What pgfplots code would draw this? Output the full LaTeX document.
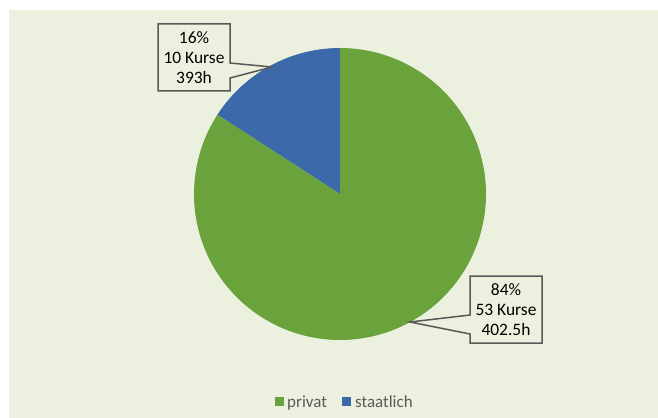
\documentclass[border=0pt]{standalone}
\usepackage{pgfplots}
\pgfplotsset{compat=1.18}
\usepackage{pgfplotstable}
\usepackage{fontspec}
\setmainfont{Carlito}
\definecolor{bgc}{HTML}{EBF1DE}
\definecolor{pgreen}{HTML}{6AA33C}
\definecolor{pblue}{HTML}{3B69A9}
\definecolor{frame}{HTML}{595959}
\definecolor{legtext}{HTML}{595959}
% data: courses and hours per group
\pgfplotstableread{
label kurse hours
privat 53 402.5
staatlich 10 393
}\piedata
\pgfplotstablegetelem{0}{kurse}\of\piedata \let\kpriv\pgfplotsretval
\pgfplotstablegetelem{1}{kurse}\of\piedata \let\kstaat\pgfplotsretval
\pgfmathsetmacro{\total}{\kpriv+\kstaat}
\pgfmathsetmacro{\aStaat}{90+360*\kstaat/\total}
\begin{document}
\begin{tikzpicture}
\begin{axis}[
  scale only axis, width=658bp, height=418bp,
  xmin=0, xmax=658, ymin=0, ymax=418, y dir=reverse,
  hide axis, clip=false,
]
\fill[white] (axis cs:0,0) rectangle (axis cs:658,418);
\fill[bgc] (axis cs:9,10) rectangle (axis cs:658,418);
% staatlich wedge
\addplot[fill=pblue, draw=none, domain=90:\aStaat, samples=80, variable=\t]
  ({340+146*cos(\t)},{194-146*sin(\t)}) -- (axis cs:340,194) -- cycle;
% privat wedge
\addplot[fill=pgreen, draw=none, domain=\aStaat:450, samples=200, variable=\t]
  ({340+146*cos(\t)},{194-146*sin(\t)}) -- (axis cs:340,194) -- cycle;
% callouts
\draw[frame, fill=bgc, line width=1.5bp, line join=miter]
  (axis cs:158,24) -- (axis cs:230,24) -- (axis cs:230,63) -- (axis cs:272,67)
  -- (axis cs:230,78) -- (axis cs:230,91) -- (axis cs:158,91) -- cycle;
\node[align=center, font=\fontsize{17.5}{20}\selectfont, text=black, inner sep=0pt]
  at (axis cs:194,58) {16\%\\10 Kurse\\393h};
\draw[frame, fill=bgc, line width=1.5bp, line join=miter]
  (axis cs:470,276) -- (axis cs:542,276) -- (axis cs:542,343) -- (axis cs:470,343)
  -- (axis cs:470,334) -- (axis cs:410,322) -- (axis cs:470,315) -- cycle;
\node[align=center, font=\fontsize{17.5}{20}\selectfont, text=black, inner sep=0pt]
  at (axis cs:506,310) {84\%\\53 Kurse\\402.5h};
% legend
\fill[pgreen] (axis cs:275,397) rectangle (axis cs:284,406);
\node[anchor=base west, font=\fontsize{17}{20}\selectfont, text=legtext, inner sep=0pt]
  at (axis cs:287,407) {privat};
\fill[pblue] (axis cs:342,397) rectangle (axis cs:351,406);
\node[anchor=base west, font=\fontsize{17}{20}\selectfont, text=legtext, inner sep=0pt]
  at (axis cs:355,407) {staatlich};
\end{axis}
\end{tikzpicture}
\end{document}
